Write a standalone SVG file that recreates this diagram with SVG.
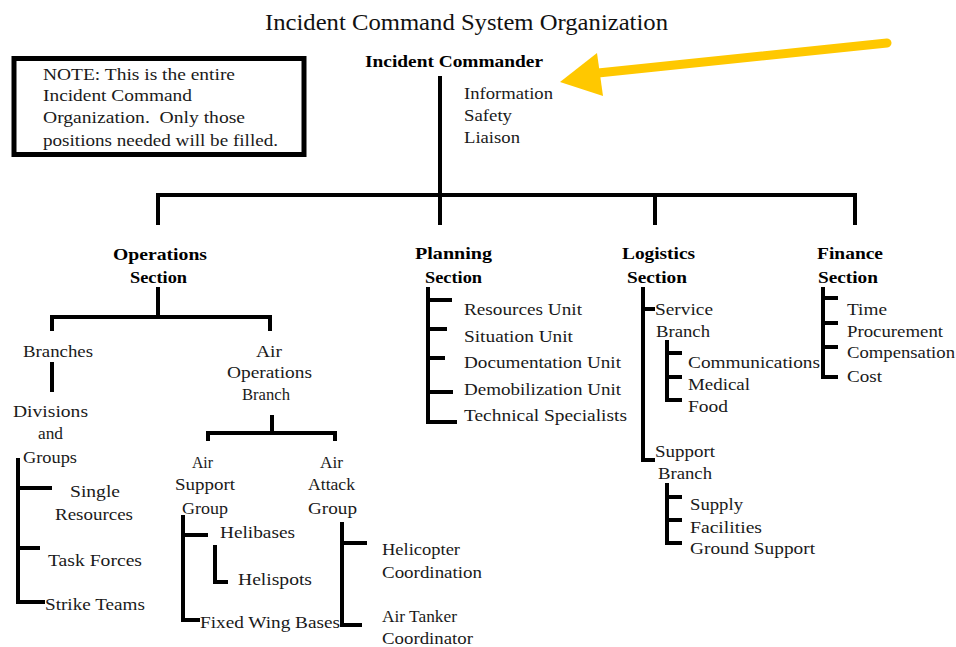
<svg xmlns="http://www.w3.org/2000/svg" width="956" height="647" viewBox="0 0 956 647">
<style>
text{font-family:"Liberation Serif","Times New Roman",serif;fill:#1a1a1a;font-size:17px;white-space:pre}
.t{font-size:23px;fill:#111}
.b{font-weight:bold;fill:#000}
.n{font-size:16px}
.c{fill:none;stroke:#000;stroke-width:4;stroke-linejoin:miter;stroke-linecap:butt}
</style>
<rect width="956" height="647" fill="#fff"/>
<g id="title"><text class="t" x="265" y="30" textLength="403" lengthAdjust="spacingAndGlyphs">Incident Command System Organization</text></g>
<g id="note">
<rect x="14" y="58.5" width="290" height="96" fill="none" stroke="#000" stroke-width="5"/>
<text class="n" x="43" y="80" textLength="192" lengthAdjust="spacingAndGlyphs">NOTE: This is the entire</text>
<text class="n" x="43" y="101" textLength="149" lengthAdjust="spacingAndGlyphs">Incident Command</text>
<text class="n" x="43" y="123" textLength="202" lengthAdjust="spacingAndGlyphs">Organization.  Only those</text>
<text class="n" x="43" y="146" textLength="235" lengthAdjust="spacingAndGlyphs">positions needed will be filled.</text>
</g>
<g id="connectors">
<line class="c" x1="440" y1="76" x2="440" y2="225"/>
<polyline class="c" points="158,225 158,195 855,195 855,225"/>
<line class="c" x1="655" y1="195" x2="655" y2="225"/>
<line class="c" x1="158" y1="287" x2="158" y2="317"/>
<polyline class="c" points="52,331 52,317 270,317 270,331"/>
<line class="c" x1="52" y1="362" x2="52" y2="392"/>
<line class="c" x1="272" y1="415" x2="272" y2="433"/>
<polyline class="c" points="208,441 208,433 335,433 335,441"/>
<polyline class="c" points="18,458 18,602 45,602"/>
<line class="c" x1="18" y1="488" x2="52" y2="488"/>
<line class="c" x1="18" y1="548" x2="40" y2="548"/>
<polyline class="c" points="183,515 183,620 200,620"/>
<line class="c" x1="183" y1="535" x2="208" y2="535"/>
<polyline class="c" points="215,545 215,582 228,582"/>
<polyline class="c" points="342,522 342,625 362,625"/>
<line class="c" x1="342" y1="543" x2="367" y2="543"/>
<polyline class="c" points="428,287 428,422 457,422"/>
<line class="c" x1="428" y1="300" x2="452" y2="300"/>
<line class="c" x1="428" y1="329" x2="447" y2="329"/>
<line class="c" x1="428" y1="358" x2="445" y2="358"/>
<line class="c" x1="428" y1="392" x2="453" y2="392"/>
<polyline class="c" points="643,287 643,460 655,460"/>
<line class="c" x1="643" y1="309" x2="655" y2="309"/>
<polyline class="c" points="667,340 667,400 682,400"/>
<line class="c" x1="667" y1="353" x2="682" y2="353"/>
<line class="c" x1="667" y1="377" x2="682" y2="377"/>
<polyline class="c" points="667,483 667,543 682,543"/>
<line class="c" x1="667" y1="497" x2="682" y2="497"/>
<line class="c" x1="667" y1="520" x2="682" y2="520"/>
<polyline class="c" points="823,287 823,377 838,377"/>
<line class="c" x1="823" y1="298" x2="838" y2="298"/>
<line class="c" x1="823" y1="323" x2="838" y2="323"/>
<line class="c" x1="823" y1="347" x2="838" y2="347"/>
</g>
<g id="incident-commander">
<text class="b" x="365" y="67" font-size="16" textLength="178" lengthAdjust="spacingAndGlyphs">Incident Commander</text>
<text x="464" y="99" textLength="89" lengthAdjust="spacingAndGlyphs">Information</text>
<text x="464" y="121" textLength="48" lengthAdjust="spacingAndGlyphs">Safety</text>
<text x="464" y="143" textLength="56" lengthAdjust="spacingAndGlyphs">Liaison</text>
</g>
<g id="operations">
<text class="b" x="113" y="260" textLength="94" lengthAdjust="spacingAndGlyphs">Operations</text>
<text class="b" x="130" y="283" textLength="57" lengthAdjust="spacingAndGlyphs">Section</text>
</g>
<g id="branches"><text x="23" y="357" textLength="70" lengthAdjust="spacingAndGlyphs">Branches</text></g>
<g id="divisions">
<text x="13" y="417" textLength="75" lengthAdjust="spacingAndGlyphs">Divisions</text>
<text x="38" y="439" textLength="25" lengthAdjust="spacingAndGlyphs">and</text>
<text x="23" y="463" textLength="54" lengthAdjust="spacingAndGlyphs">Groups</text>
</g>
<g id="single-resources">
<text x="70" y="497" textLength="50" lengthAdjust="spacingAndGlyphs">Single</text>
<text x="55" y="520" textLength="78" lengthAdjust="spacingAndGlyphs">Resources</text>
</g>
<g id="task-forces"><text x="48" y="566" textLength="94" lengthAdjust="spacingAndGlyphs">Task Forces</text></g>
<g id="strike-teams"><text x="45" y="610" textLength="100" lengthAdjust="spacingAndGlyphs">Strike Teams</text></g>
<g id="air-operations">
<text x="256" y="357" textLength="26" lengthAdjust="spacingAndGlyphs">Air</text>
<text x="227" y="378" textLength="85" lengthAdjust="spacingAndGlyphs">Operations</text>
<text x="242" y="400" textLength="48" lengthAdjust="spacingAndGlyphs">Branch</text>
</g>
<g id="air-support">
<text x="192" y="468" textLength="21" lengthAdjust="spacingAndGlyphs">Air</text>
<text x="175" y="490" textLength="60" lengthAdjust="spacingAndGlyphs">Support</text>
<text x="182" y="514" textLength="46" lengthAdjust="spacingAndGlyphs">Group</text>
</g>
<g id="air-attack">
<text x="320" y="468" textLength="23" lengthAdjust="spacingAndGlyphs">Air</text>
<text x="308" y="490" textLength="47" lengthAdjust="spacingAndGlyphs">Attack</text>
<text x="308" y="514" textLength="49" lengthAdjust="spacingAndGlyphs">Group</text>
</g>
<g id="helibases"><text x="220" y="538" textLength="75" lengthAdjust="spacingAndGlyphs">Helibases</text></g>
<g id="helispots"><text x="238" y="585" textLength="74" lengthAdjust="spacingAndGlyphs">Helispots</text></g>
<g id="fixed-wing"><text x="200" y="628" textLength="140" lengthAdjust="spacingAndGlyphs">Fixed Wing Bases</text></g>
<g id="helicopter">
<text x="382" y="555" textLength="78" lengthAdjust="spacingAndGlyphs">Helicopter</text>
<text x="382" y="578" textLength="100" lengthAdjust="spacingAndGlyphs">Coordination</text>
</g>
<g id="air-tanker">
<text x="382" y="622" textLength="75" lengthAdjust="spacingAndGlyphs">Air Tanker</text>
<text x="382" y="644" textLength="91" lengthAdjust="spacingAndGlyphs">Coordinator</text>
</g>
<g id="planning">
<text class="b" x="415" y="259" textLength="77" lengthAdjust="spacingAndGlyphs">Planning</text>
<text class="b" x="425" y="283" textLength="57" lengthAdjust="spacingAndGlyphs">Section</text>
</g>
<g id="planning-units">
<text x="464" y="315" textLength="118" lengthAdjust="spacingAndGlyphs">Resources Unit</text>
<text x="464" y="342" textLength="109" lengthAdjust="spacingAndGlyphs">Situation Unit</text>
<text x="464" y="368" textLength="157" lengthAdjust="spacingAndGlyphs">Documentation Unit</text>
<text x="464" y="395" textLength="157" lengthAdjust="spacingAndGlyphs">Demobilization Unit</text>
<text x="464" y="421" textLength="163" lengthAdjust="spacingAndGlyphs">Technical Specialists</text>
</g>
<g id="logistics">
<text class="b" x="622" y="259" textLength="73" lengthAdjust="spacingAndGlyphs">Logistics</text>
<text class="b" x="627" y="283" textLength="60" lengthAdjust="spacingAndGlyphs">Section</text>
</g>
<g id="service-branch">
<text x="655" y="315" textLength="58" lengthAdjust="spacingAndGlyphs">Service</text>
<text x="656" y="337" textLength="54" lengthAdjust="spacingAndGlyphs">Branch</text>
<text x="688" y="368" textLength="132" lengthAdjust="spacingAndGlyphs">Communications</text>
<text x="688" y="390" textLength="62" lengthAdjust="spacingAndGlyphs">Medical</text>
<text x="688" y="412" textLength="40" lengthAdjust="spacingAndGlyphs">Food</text>
</g>
<g id="support-branch">
<text x="655" y="457" textLength="60" lengthAdjust="spacingAndGlyphs">Support</text>
<text x="658" y="479" textLength="54" lengthAdjust="spacingAndGlyphs">Branch</text>
<text x="690" y="510" textLength="53" lengthAdjust="spacingAndGlyphs">Supply</text>
<text x="690" y="533" textLength="72" lengthAdjust="spacingAndGlyphs">Facilities</text>
<text x="690" y="554" textLength="125" lengthAdjust="spacingAndGlyphs">Ground Support</text>
</g>
<g id="finance">
<text class="b" x="817" y="259" textLength="66" lengthAdjust="spacingAndGlyphs">Finance</text>
<text class="b" x="818" y="283" textLength="60" lengthAdjust="spacingAndGlyphs">Section</text>
<text x="847" y="315" textLength="40" lengthAdjust="spacingAndGlyphs">Time</text>
<text x="847" y="337" textLength="96" lengthAdjust="spacingAndGlyphs">Procurement</text>
<text x="847" y="358" textLength="108" lengthAdjust="spacingAndGlyphs">Compensation</text>
<text x="847" y="382" textLength="35" lengthAdjust="spacingAndGlyphs">Cost</text>
</g>
<g id="arrow">
<line x1="887" y1="43" x2="598" y2="73" stroke="#FFC800" stroke-width="9" stroke-linecap="round"/>
<polygon points="560,82 597,53 603,96" fill="#FFC800"/>
</g>
</svg>
